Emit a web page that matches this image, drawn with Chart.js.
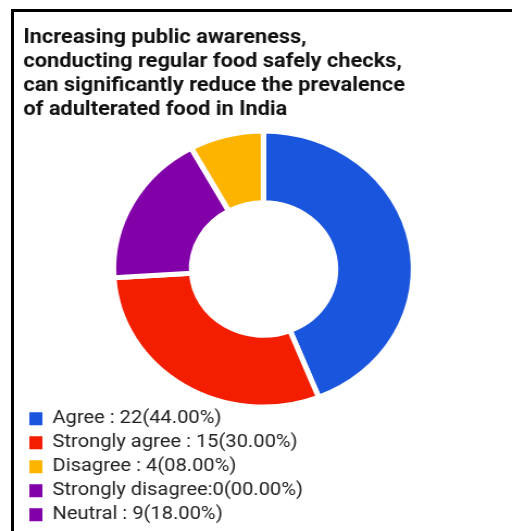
<!DOCTYPE html>
<html><head><meta charset="utf-8">
<script src="https://cdn.jsdelivr.net/npm/chart.js@4.4.1/dist/chart.umd.min.js"></script>
<style>
html,body{margin:0;padding:0;background:#fff;overflow:hidden;width:512px;height:531px}
#wrap{position:absolute;left:0;top:0;width:512px;height:534px}
#c{width:512px !important;height:534px !important;display:block}
#frame{position:absolute;left:11px;top:9px;right:0;bottom:0;border-top:3px solid #000;border-left:3px solid #000;pointer-events:none}
</style></head><body>
<div id="wrap"><canvas id="c" width="471" height="534"></canvas></div>
<div id="frame"></div>
<script>
const titleLines = [
  'Increasing public awareness,',
  'conducting regular food safely checks,',
  'can significantly reduce the prevalence',
  'of adulterated food in India'
];
// drawing order (clockwise from top)
const categories = ['Agree', 'Strongly agree', 'Neutral', 'Disagree', 'Strongly disagree'];
const counts = [22, 15, 9, 4, 0];
const sliceColors = ['#1A55DE', '#F31E00', '#8200A8', '#FDB400', '#8200A8'];
// legend order and texts
const legendOrder = ['Agree', 'Strongly agree', 'Disagree', 'Strongly disagree', 'Neutral'];
const legendTexts = ['Agree : 22(44.00%)', 'Strongly agree : 15(30.00%)', 'Disagree : 4(08.00%)', 'Strongly disagree:0(00.00%)', 'Neutral : 9(18.00%)'];

const pad = ' '.repeat(70);

new Chart(document.getElementById('c'), {
  type: 'doughnut',
  data: {
    labels: categories,
    datasets: [{
      data: counts,
      backgroundColor: sliceColors,
      borderColor: '#ffffff',
      borderWidth: 5,
      radius: 138,
      clip: false
    }]
  },
  options: {
    responsive: false,
    animation: false,
    cutout: '48%',
    layout: { padding: { left: 21.5, right: 7.7, top: 0, bottom: 0 } },
    plugins: {
      tooltip: { enabled: false },
      title: {
        display: true,
        text: titleLines,
        align: 'start',
        color: '#111111',
        font: { family: 'Roboto', size: 20, weight: 'bold', lineHeight: 24 / 20 },
        padding: { top: 26, bottom: 12 }
      },
      legend: {
        display: true,
        position: 'bottom',
        align: 'start',
        labels: {
          boxWidth: 12,
          boxHeight: 13,
          padding: 5.5,
          color: '#222222',
          font: { family: 'Roboto', size: 18.5 },
          generateLabels: (chart) => {
            const ds = chart.data.datasets[0];
            return legendOrder.map((name, k) => {
              const i = categories.indexOf(name);
              return {
                text: legendTexts[k] + pad,
                fillStyle: ds.backgroundColor[i],
                strokeStyle: ds.backgroundColor[i],
                lineWidth: 0,
                fontColor: '#222222',
                hidden: false,
                index: i
              };
            });
          }
        }
      }
    }
  }
});
</script>
</body></html>
